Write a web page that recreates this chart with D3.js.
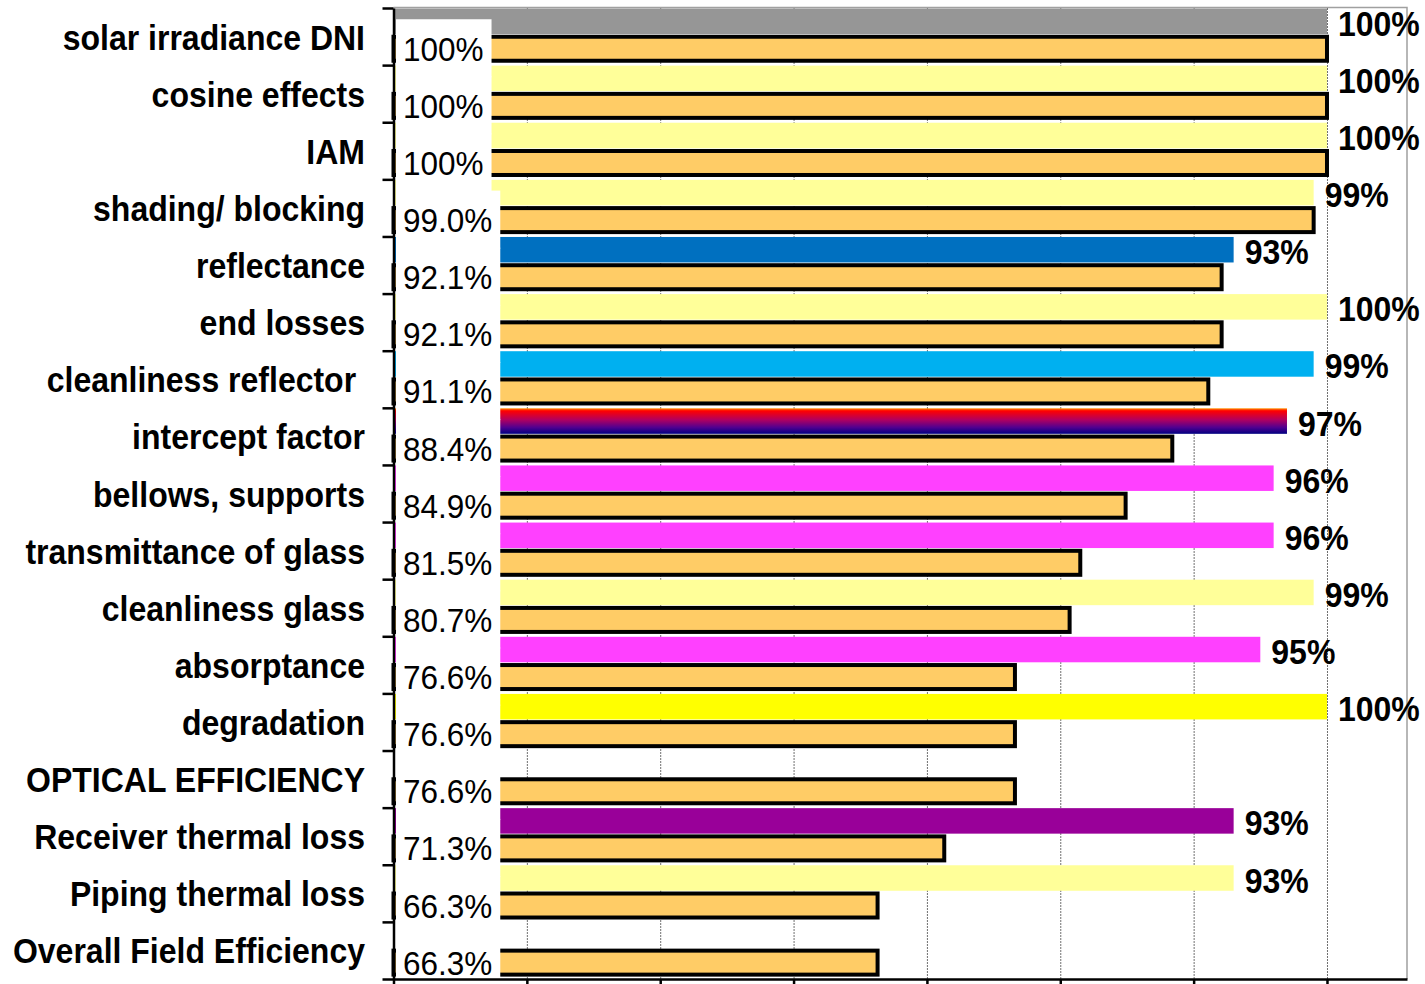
<!DOCTYPE html>
<html>
<head>
<meta charset="utf-8">
<script src="https://cdn.jsdelivr.net/npm/d3@7"></script>
<style>
  html, body { margin: 0; padding: 0; background: #fff; }
  svg { display: block; }
  text { font-family: "Liberation Sans", Arial, sans-serif; white-space: pre; }
</style>
</head>
<body>
<svg id="chart" width="1425" height="984"></svg>
<script>
// ---- data ----
const categories = [
  "solar irradiance DNI", "cosine effects", "IAM", "shading/ blocking", "reflectance",
  "end losses", "cleanliness reflector ", "intercept factor", "bellows, supports",
  "transmittance of glass", "cleanliness glass", "absorptance", "degradation",
  "OPTICAL EFFICIENCY", "Receiver thermal loss", "Piping thermal loss", "Overall Field Efficiency"
];
// individual loss factor (%) - null where no factor bar
const factorValues = [100, 100, 100, 99, 93, 100, 99, 97, 96, 96, 99, 95, 100, null, 93, 93, null];
// cumulative efficiency (%)
const cumulativeValues = [100, 100, 100, 99.0, 92.1, 92.1, 91.1, 88.4, 84.9, 81.5, 80.7, 76.6, 76.6, 76.6, 71.3, 66.3, 66.3];
const factorColors = [
  "#969696", "#ffff99", "#ffff99", "#ffff99", "#0070c0", "#ffff99", "#00b0f0", "url(#interceptGrad)",
  "#ff40ff", "#ff40ff", "#ffff99", "#ff40ff", "#ffff00", null, "#990099", "#ffff99", null
];
const xTickValues = [30, 40, 50, 60, 70, 80, 90, 100];
const xDomain = [30, 106];

(function () {
// ---- layout ----
const svg = d3.select("#chart");
const pLeft = 393.5, pRight = 1407, pTop = 8, pBottom = 979;
const STRETCH = 1.08;

const x = d3.scaleLinear().domain(xDomain).range([pLeft, pRight]);
const y = d3.scaleBand().domain(categories).range([pTop, pBottom]).paddingInner(0).paddingOuter(0);
const bw = y.bandwidth();
const yIdx = d3.scaleLinear().domain([0, categories.length]).range([pTop, pBottom]);

const defs = svg.append("defs");
const grad = defs.append("linearGradient").attr("id", "interceptGrad")
  .attr("x1", 0).attr("y1", 0).attr("x2", 0).attr("y2", 1);
[[0, "#ff9000"], [0.1, "#ff0000"], [0.45, "#b00060"], [0.75, "#500090"], [1, "#000080"]]
  .forEach(([o, c]) => grad.append("stop").attr("offset", o).attr("stop-color", c));

const rows = categories.map((c, i) => ({ cat: c, f: factorValues[i], v: cumulativeValues[i], col: factorColors[i] }));

// plot border (top + right)
svg.append("path")
  .attr("d", `M${pLeft},${pTop - 0.5}H${pRight}V${pBottom}`)
  .attr("fill", "none").attr("stroke", "#a0a0a0").attr("stroke-width", 1.5);

// gridlines
svg.append("g")
  .attr("transform", `translate(0,${pBottom})`)
  .call(d3.axisBottom(x).tickValues(xTickValues.slice(1)).tickSize(-(pBottom - pTop)).tickFormat(""))
  .call(g => g.select(".domain").remove())
  .call(g => g.selectAll("line").attr("stroke", "#707070").attr("stroke-width", 1).attr("stroke-dasharray", "2,1"));

// factor bars
svg.append("g").selectAll("rect")
  .data(rows.filter(d => d.f !== null))
  .join("rect")
  .attr("x", x(xDomain[0]))
  .attr("y", d => y(d.cat) + 0.5)
  .attr("width", d => x(d.f) - x(xDomain[0]))
  .attr("height", 25.5)
  .attr("fill", d => d.col);

// cumulative bars
svg.append("g").selectAll("rect")
  .data(rows)
  .join("rect")
  .attr("x", x(xDomain[0]))
  .attr("y", d => y(d.cat) + 28.75)
  .attr("width", d => x(d.v) - x(xDomain[0]))
  .attr("height", 24)
  .attr("fill", "#ffcc66")
  .attr("stroke", "#000")
  .attr("stroke-width", 4);

// left value labels (white boxes)
const fmtCum = v => v === 100 ? "100%" : v.toFixed(1) + "%";
const lbl = svg.append("g");
rows.forEach(d => {
  const cy = y(d.cat) + 28.75 + 12;
  const gg = lbl.append("g");
  const rect = gg.append("rect").attr("fill", "#fff");
  const t = gg.append("text")
    .attr("font-size", 31.5)
    .attr("fill", "#000")
    .attr("transform", `translate(403,${cy + 12}) scale(1,${STRETCH})`)
    .text(fmtCum(d.v));
  const w = t.node().getComputedTextLength();
  rect.attr("x", 396).attr("y", cy - 29.5).attr("width", 7 + w + 8).attr("height", 58);
});

// right factor labels
svg.append("g").selectAll("text")
  .data(rows.filter(d => d.f !== null))
  .join("text")
  .attr("font-size", 32)
  .attr("font-weight", "bold")
  .attr("fill", "#000")
  .attr("transform", d => `translate(${x(d.f) + 11},${y(d.cat) + 0.5 + 12.75 + 14.5}) scale(1,${STRETCH})`)
  .text(d => Math.round(d.f) + "%");

// category labels
svg.append("g").selectAll("text")
  .data(rows)
  .join("text")
  .attr("font-size", 32)
  .attr("font-weight", "bold")
  .attr("fill", "#000")
  .attr("text-anchor", "end")
  .attr("transform", d => `translate(365,${y(d.cat) + bw / 2 + 13}) scale(1,${STRETCH})`)
  .text(d => d.cat);

// left axis (ticks at category boundaries)
svg.append("g")
  .attr("transform", `translate(${pLeft},0)`)
  .call(d3.axisLeft(yIdx).tickValues(d3.range(categories.length + 1)).tickSize(11).tickSizeOuter(0).tickFormat(""))
  .call(g => g.selectAll("line,path").attr("stroke", "#000").attr("stroke-width", 2.5));

// bottom axis
svg.append("g")
  .attr("transform", `translate(0,${pBottom})`)
  .call(d3.axisBottom(x).tickValues(xTickValues).tickSize(7).tickSizeOuter(0).tickFormat(""))
  .call(g => g.selectAll("line,path").attr("stroke", "#000").attr("stroke-width", 2.5));
})();
</script>
</body>
</html>
